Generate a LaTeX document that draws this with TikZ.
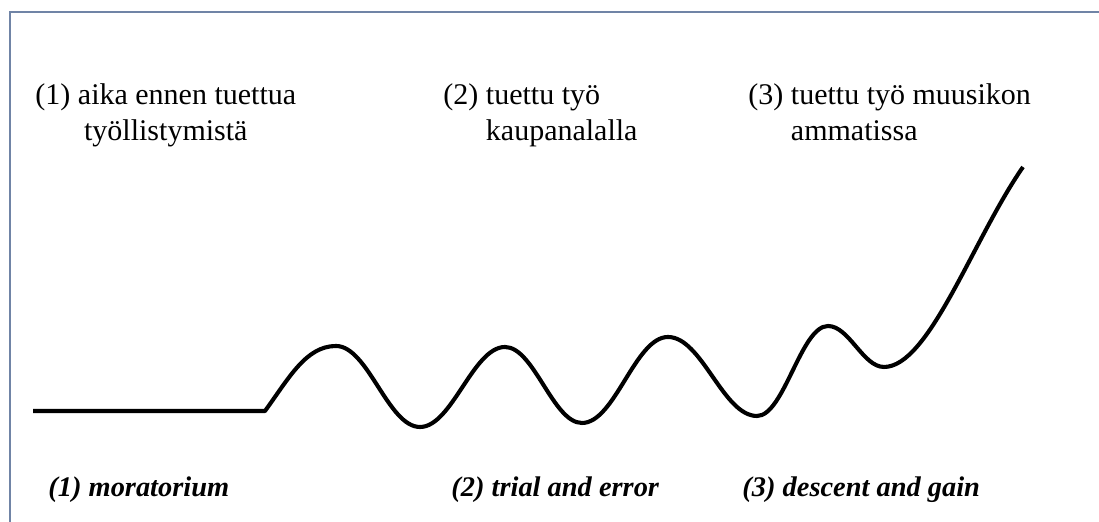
\documentclass[tikz,border=0pt]{standalone}
\usepackage{fontspec}
\setmainfont{Liberation Serif}
\usepackage{tikz}
\usetikzlibrary{positioning}

\definecolor{framecol}{RGB}{112,132,166}

\tikzset{
  frameline/.style = {draw=framecol, line width=1.2pt},
  phase/.style = {line width=1.8pt, line join=round},
  toplabel/.style = {inner sep=0pt, anchor=base west, font=\fontsize{13.2}{16}\selectfont},
  bottomlabel/.style = {inner sep=0pt, anchor=base west, font=\fontsize{12.5}{15.8}\selectfont\bfseries\itshape}
}

\begin{document}
\begin{tikzpicture}[x=0.44pt, y=0.44pt]
	\useasboundingbox (0,0) rectangle (1099,522);
	% frame, only top and left edge visible
	\draw [frameline] (10,0) -- (10,510) -- (1099,510);
	% turning points of the curve
	\coordinate (start) at (33,111);
	\coordinate (corner) at (265,111);
	\coordinate (p1) at (336,176);
	\coordinate (t1) at (420,95);
	\coordinate (p2) at (505,175);
	\coordinate (t2) at (582,99);
	\coordinate (p3) at (668,185);
	\coordinate (t3) at (757,106);
	\coordinate (p4) at (828,196);
	\coordinate (t4) at (884,155);
	\coordinate (top) at (1023,355);
	\draw [phase] (start) -- (corner)
		.. controls +(24,33) and +(-30,0) .. (p1)
		.. controls +(32,0) and +(-32,0) .. (t1)
		.. controls +(32,0) and +(-32,0) .. (p2)
		.. controls +(29,0) and +(-29,0) .. (t2)
		.. controls +(33,0) and +(-33,0) .. (p3)
		.. controls +(34,0) and +(-34,0) .. (t3)
		.. controls +(27,0) and +(-27,0) .. (p4)
		.. controls +(21,0) and +(-21,0) .. (t4)
		.. controls +(45,0) and +(-50,-72) .. (top);
	% Finnish phase names (base = last line)
	\node [toplabel, align=center] (fin1) at (35,381) {(1) aika ennen tuettua\\työllistymistä};
	\node [toplabel, align=left] (fin2) at (443,381) {(2) tuettu työ\\\hphantom{(2) }kaupanalalla};
	\node [toplabel, align=left] (fin3) at (748,381) {(3) tuettu työ muusikon\\\hphantom{(3) }ammatissa};
	% English phase names
	\node [bottomlabel] (eng1) at (48,25) {(1) moratorium};
	\node [bottomlabel] (eng2) at (451,25) {(2) trial and error};
	\node [bottomlabel] (eng3) at (742,25) {(3) descent and gain};
\end{tikzpicture}
\end{document}
